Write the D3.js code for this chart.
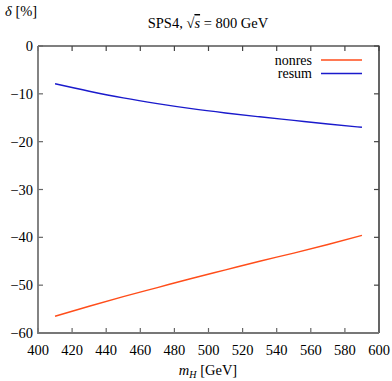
<!DOCTYPE html>
<html>
<head>
<meta charset="utf-8">
<script src="https://cdn.jsdelivr.net/npm/d3@7"></script>
<style>
body { margin: 0; background: #fff; }
text { font-family: "Liberation Serif", "DejaVu Serif", serif; fill: #000; }
</style>
</head>
<body>
<div id="chart"></div>
<script>
// masses in GeV and relative corrections in percent
var mass = [410, 430, 450, 470, 490, 510, 530, 550, 570, 590];
var nonres = [-56.5, -54.4, -52.4, -50.5, -48.6, -46.8, -45.0, -43.3, -41.5, -39.6];
var resum = [-7.9, -9.45, -10.85, -12.05, -13.1, -14.0, -14.8, -15.55, -16.3, -17.0];
var xTicks = [400, 420, 440, 460, 480, 500, 520, 540, 560, 580, 600];
var yTicks = [0, -10, -20, -30, -40, -50, -60];
var seriesNames = ["nonres", "resum"];
var seriesColors = ["#ff4d1a", "#1a1acc"];

var W = 392, H = 381;
var pl = 38, pr = 379, pt = 46, pb = 333;
var fs = 14.5;

var svg = d3.select("#chart").append("svg")
  .attr("width", W).attr("height", H);

var x = d3.scaleLinear().domain([400, 600]).range([pl, pr]);
var y = d3.scaleLinear().domain([-60, 0]).range([pb, pt]);

// frame: top and right black
svg.append("path")
  .attr("d", "M" + pl + "," + pt + "H" + pr + "V" + pb)
  .attr("fill", "none").attr("stroke", "#000").attr("stroke-width", 1.2);

// ticks inward on all sides
var tl = 5;
xTicks.forEach(function(t){
  svg.append("line").attr("x1", x(t)).attr("x2", x(t)).attr("y1", pb).attr("y2", pb - tl)
    .attr("stroke", "#666").attr("stroke-width", 1.2);
  svg.append("line").attr("x1", x(t)).attr("x2", x(t)).attr("y1", pt).attr("y2", pt + tl)
    .attr("stroke", "#444").attr("stroke-width", 1.2);
  svg.append("text").attr("x", x(t)).attr("y", pb + 22)
    .attr("text-anchor", "middle").attr("font-size", fs).text(t);
});
yTicks.forEach(function(t){
  svg.append("line").attr("x1", pl).attr("x2", pl + tl).attr("y1", y(t)).attr("y2", y(t))
    .attr("stroke", "#666").attr("stroke-width", 1.2);
  svg.append("line").attr("x1", pr).attr("x2", pr - tl).attr("y1", y(t)).attr("y2", y(t))
    .attr("stroke", "#444").attr("stroke-width", 1.2);
  svg.append("text").attr("x", pl - 5).attr("y", y(t) + 5)
    .attr("text-anchor", "end").attr("font-size", fs)
    .text(t < 0 ? "\u2212" + (-t) : t);
});

// left and bottom axes gray
svg.append("path")
  .attr("d", "M" + pl + "," + pt + "V" + pb + "H" + pr)
  .attr("fill", "none").attr("stroke", "#777").attr("stroke-width", 1.8);

var line = d3.line().curve(d3.curveMonotoneX)
  .x(function(d){ return x(d[0]); }).y(function(d){ return y(d[1]); });
[nonres, resum].forEach(function(vals, i){
  svg.append("path")
    .datum(mass.map(function(m, j){ return [m, vals[j]]; }))
    .attr("d", line)
    .attr("fill", "none").attr("stroke", seriesColors[i]).attr("stroke-width", 1.4);
});

// legend
seriesNames.forEach(function(n, i){
  var ly = 60 + i * 13.5;
  svg.append("text").attr("x", 312).attr("y", ly + 4.5)
    .attr("text-anchor", "end").attr("font-size", 14).text(n);
  svg.append("line").attr("x1", 321).attr("x2", 362).attr("y1", ly).attr("y2", ly)
    .attr("stroke", seriesColors[i]).attr("stroke-width", 1.4);
});

// title
var title = svg.append("text").attr("x", 208).attr("y", 28)
  .attr("text-anchor", "middle").attr("font-size", fs);
title.append("tspan").text("SPS4, ");
title.append("tspan").text("\u221a");
title.append("tspan").attr("font-style", "italic").attr("text-decoration", "overline").text("s");
title.append("tspan").text(" = 800 GeV");

// axis labels
var yl = svg.append("text").attr("x", 5).attr("y", 16).attr("font-size", fs);
yl.append("tspan").attr("font-style", "italic").text("\u03b4");
yl.append("tspan").text(" [%]");

var xl = svg.append("text").attr("x", 208).attr("y", 375)
  .attr("text-anchor", "middle").attr("font-size", fs);
xl.append("tspan").attr("font-style", "italic").text("m");
xl.append("tspan").attr("font-style", "italic").attr("font-size", 10).attr("dy", 3).text("H");
xl.append("tspan").attr("dy", -3).text(" [GeV]");
</script>
</body>
</html>
